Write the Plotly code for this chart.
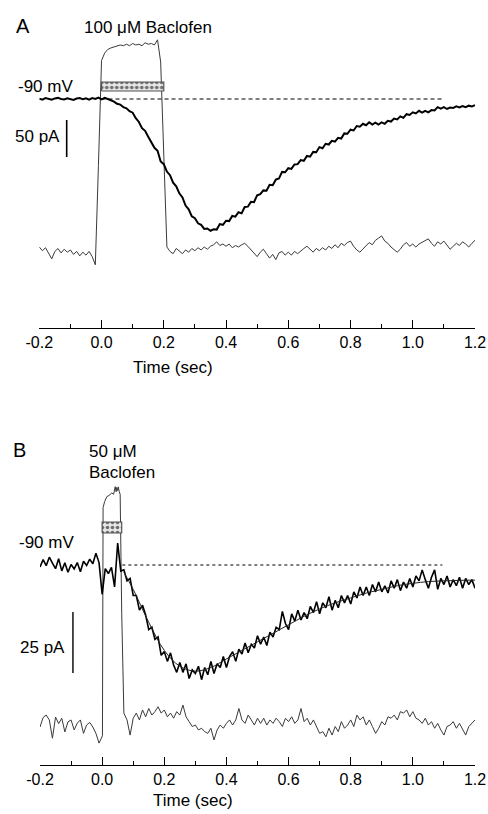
import plotly.graph_objects as go

W, H = 488, 814

# ---------------- data ----------------
T0 = -0.2          # first sample time (s)
DT = 0.01          # sample interval (s)

# Panel A: 100 uM baclofen, current (pA, relative to holding current at -90 mV)
a_current = [
    0.5, -0.8, 1.2, 0.2, -1.0, 0.8, 1.5, 0.0, -0.6, 1.0,
    0.3, -1.2, 0.6, 1.4, -0.4, 0.9, -0.8, 1.3, 0.2, 2.0,
    -0.5, 1.5, 0.0, -1.8, -3.5, -6.5, -7.5, -11, -12.5, -16.5,
    -18.5, -26, -31, -39.5, -43, -51, -58, -66, -70, -84.5,
    -88, -98, -103, -113, -118, -127.5, -133, -144, -149, -158.5,
    -161, -168, -170, -175.5, -175, -178, -176, -176.5, -169, -170,
    -164.5, -165, -158, -159, -153, -154.5, -146, -145.5, -139, -139.5,
    -130, -128.5, -123.5, -124, -116, -116.5, -109, -107.5, -98.5, -99,
    -93.5, -94.5, -88.5, -88, -82.5, -83.5, -77, -78, -71.5, -72,
    -65, -66.5, -60.5, -61.5, -56.5, -57.5, -52.5, -53.5, -46.5, -47,
    -41.5, -42.5, -36.5, -37.5, -33.5, -35.5, -31.5, -34.5, -32, -34.5,
    -31.5, -33.5, -29.5, -30.5, -26.5, -27.5, -23.5, -25.5, -20.5, -21.5,
    -18, -19.5, -16, -18.5, -16, -18, -15, -15.5, -11, -13,
    -11, -13.5, -11.5, -12, -10, -11.5, -9.5, -11, -9, -10,
    -8.5,
]
# Panel A: solution-exchange (open-tip) trace, same vertical units
a_solution = [
    -200, -205, -201, -209, -216, -206, -202, -208, -203, -207,
    -204, -210, -206, -212, -207, -211, -206, -213, -224, -90,
    52, 62, 67, 69, 70, 71, 73, 72, 74, 72,
    75, 73, 74, 72, 76, 74, 75, 73, 80, 50,
    -78, -200, -206, -209, -202, -205, -209, -204, -207, -202,
    -205, -201, -204, -200, -203, -199, -197, -193, -198, -196,
    -199, -196, -201, -198, -200, -197, -195, -199, -204, -209,
    -213, -207, -203, -209, -215, -210, -217, -208, -206, -211,
    -207, -211, -206, -209, -205, -202, -199, -203, -207, -202,
    -205, -201, -204, -199, -202, -197, -201, -195, -198, -194,
    -192, -199, -204, -207, -203, -198, -194, -197, -191, -188,
    -185, -192, -195, -200, -204, -207, -203, -197, -194, -199,
    -196, -200, -196, -194, -191, -189, -195, -199, -193, -196,
    -192, -198, -203, -199, -195, -198, -193, -196, -200, -195,
    -191,
]
a_application = [0.0, 0.2]     # s
a_baseline_span = [0.0, 1.1]   # s
a_scale_pa = 50

# Panel B: 50 uM baclofen, current (pA)
b_current = [
    -0.8, 2.2, -0.3, 3.2, 0.8, -1.5, 2.6, -2.4, 0.9, -3.0,
    0.2, -1.6, 1.0, -2.8, 1.5, -0.2, 2.4, 0.5, 4.8, 1.0,
    -12.0, -1.5, -3.5, -1.0, -9.0, 9.0, -2.5, -2.0, -6.5, -5.5,
    -12.5, -12.5, -18.5, -16.5, -20.5, -26.5, -25.5, -30.5, -29.5, -37,
    -35.5, -39.5, -36, -41, -44, -40, -44, -40.5, -46.5, -43,
    -44.5, -41.5, -47, -42, -45, -39.5, -44.5, -40.5, -42, -37.5,
    -42, -37.5, -35.5, -39.5, -34.5, -36.5, -32, -36, -32.5, -34,
    -29, -32.5, -29.5, -33, -27.5, -29.5, -25.5, -26.5, -19, -24,
    -26.5, -20, -23, -18.5, -22.5, -19.5, -22, -17, -19.5, -15,
    -20, -15.5, -17.5, -13, -18.5, -14.5, -17.5, -12.5, -15.5, -12.5,
    -16, -11, -13.5, -9, -12.5, -9, -12.5, -8, -11, -7,
    -11, -8.5, -11.5, -6.5, -9.5, -6, -10.5, -7, -9.5, -5.5,
    -9, -4.5, -6.5, -2, -6, -9.5, -5, -2, -10, -5.5,
    -8, -4.5, -9, -6, -8.5, -5, -9.5, -5.5, -8, -6,
    -9.5,
]
# Panel B: fitted curve
b_fit_t = [0.07, 0.10, 0.15, 0.20, 0.25, 0.30, 0.35, 0.40, 0.45, 0.50, 0.55, 0.60,
           0.65, 0.70, 0.75, 0.80, 0.85, 0.90, 0.95, 1.00, 1.05, 1.10, 1.15, 1.20]
b_fit = [-3, -10, -23.5, -35, -41.5, -43.5, -42, -38.5, -35, -31.5, -28, -24.5,
         -21, -18, -15.5, -13.5, -11.5, -10, -8.5, -7.5, -6.8, -6.5, -6.3, -6.2]
# Panel B: solution-exchange trace (pre-pulse / pulse / post-pulse)
b_sol_pre = [-66.4, -62.5, -61.5, -63.5, -71.0, -62.3, -65.0, -62.8, -68.4, -64.3,
             -63.5, -67.6, -64.8, -63.5, -69.0, -65.6, -64.5, -66.4, -69.0, -73.0]
b_sol_pulse_t = [0.001, 0.003, 0.008, 0.015, 0.022, 0.031, 0.037, 0.042,
                 0.045, 0.047, 0.050, 0.052, 0.055, 0.058, 0.063]
b_sol_pulse = [-70, 23.5, 26.0, 28.0, 28.5, 29.5, 29.0, 32.1,
               30.0, 31.8, 30.5, 32.0, 30.0, 29.0, -20]
b_sol_post_t0 = 0.07
b_sol_post = [
    -60.7, -63.5, -69.7, -62.8, -60.7, -63.5, -59.4, -62.2, -58.8, -61.5,
    -60.1, -58.1, -60.7, -59.4, -62.2, -60.7, -62.8, -60.1, -61.5, -57.4,
    -62.2, -64.2, -66.2, -65.6, -67.6, -66.9, -68.3, -69.0, -66.9, -71.7,
    -67.6, -65.6, -66.9, -64.9, -63.5, -65.6, -63.5, -58.8, -63.5, -64.9,
    -61.5, -63.5, -65.6, -62.8, -64.9, -62.8, -65.6, -63.5, -64.9, -62.8,
    -64.2, -66.2, -62.8, -64.2, -62.2, -64.9, -63.5, -58.8, -64.2, -62.8,
    -65.6, -63.5, -66.2, -69.0, -68.3, -70.4, -66.9, -69.7, -66.2, -68.3,
    -64.2, -66.9, -65.6, -63.5, -66.2, -61.5, -63.5, -62.2, -65.6, -63.5,
    -66.2, -69.0, -66.9, -64.2, -65.6, -62.2, -62.8, -61.5, -63.5, -60.1,
    -60.7, -59.4, -62.2, -60.1, -62.8, -63.5, -64.9, -62.8, -65.6, -64.2,
    -66.9, -64.9, -67.6, -69.7, -66.2, -65.6, -64.2, -66.9, -64.9, -67.6,
    -69.7, -66.2, -64.9, -63.5,
]
b_application = [0.0, 0.063]
b_baseline_span = [0.065, 1.095]
b_scale_pa = 25

tick_vals = [-0.2, 0.0, 0.2, 0.4, 0.6, 0.8, 1.0, 1.2]
tick_text = ["-0.2", "0.0", "0.2", "0.4", "0.6", "0.8", "1.0", "1.2"]
minor_vals = [-0.1, 0.1, 0.3, 0.5, 0.7, 0.9, 1.1]


def times(t0, n):
    return [round(t0 + i * DT, 4) for i in range(n)]


# ---------------- geometry (pixels) ----------------
FONT = "Liberation Sans, Arial, sans-serif"
A_X0, A_X1 = 39.3, 475.0
A_AXIS_Y, A_BASE_Y, A_PX_PER_PA = 328.0, 99.0, 0.74
B_X0, B_X1 = 40.0, 475.0
B_AXIS_Y, B_BASE_Y, B_PX_PER_PA, B_TOP = 765.0, 565.0, 2.44, 400.0


def fx(px):
    return px / W


def fy(py):
    return 1 - py / H


def pa_a(px_above):
    return px_above / A_PX_PER_PA


def pa_b(px_above):
    return px_above / B_PX_PER_PA


BOX_PATTERN = dict(shape=".", fgcolor="#6e6e6e", bgcolor="#e6e6e6", size=5, solidity=0.4)

fig = go.Figure()

# ---- Panel A ----
fig.add_trace(go.Scatter(x=times(T0, len(a_solution)), y=a_solution, mode="lines",
                         line=dict(color="#3a3a3a", width=1), xaxis="x", yaxis="y"))
fig.add_trace(go.Scatter(x=a_baseline_span, y=[0, 0], mode="lines",
                         line=dict(color="black", width=1, dash="4px,3px"), xaxis="x", yaxis="y"))
fig.add_trace(go.Scatter(x=times(T0, len(a_current)), y=a_current, mode="lines",
                         line=dict(color="black", width=2), xaxis="x", yaxis="y"))
lo, hi = pa_a(8), pa_a(17)
fig.add_trace(go.Scatter(x=[a_application[0], a_application[1], a_application[1], a_application[0], a_application[0]],
                         y=[lo, lo, hi, hi, lo], mode="lines", fill="toself",
                         fillpattern=BOX_PATTERN,
                         line=dict(color="#555555", width=1.2), xaxis="x", yaxis="y"))

# ---- Panel B ----
b_sol_t = times(T0, len(b_sol_pre)) + b_sol_pulse_t + times(b_sol_post_t0, len(b_sol_post))
b_sol = b_sol_pre + b_sol_pulse + b_sol_post
fig.add_trace(go.Scatter(x=b_sol_t, y=b_sol, mode="lines",
                         line=dict(color="#3a3a3a", width=1), xaxis="x2", yaxis="y2"))
fig.add_trace(go.Scatter(x=b_baseline_span, y=[0, 0], mode="lines",
                         line=dict(color="black", width=1, dash="3px,3px"), xaxis="x2", yaxis="y2"))
fig.add_trace(go.Scatter(x=times(T0, len(b_current)), y=b_current, mode="lines",
                         line=dict(color="black", width=1.6), xaxis="x2", yaxis="y2"))
fig.add_trace(go.Scatter(x=b_fit_t, y=b_fit, mode="lines", line_shape="spline",
                         line=dict(color="#222222", width=1), xaxis="x2", yaxis="y2"))
lo, hi = pa_b(32), pa_b(43)
fig.add_trace(go.Scatter(x=[b_application[0], b_application[1], b_application[1], b_application[0], b_application[0]],
                         y=[lo, lo, hi, hi, lo], mode="lines", fill="toself",
                         fillpattern=BOX_PATTERN,
                         line=dict(color="#555555", width=1.2), xaxis="x2", yaxis="y2"))

# scale bars
a_bar_top = pa_a(A_BASE_Y - 120)
b_bar_top = pa_b(B_BASE_Y - 612)
shapes = [
    dict(type="line", xref="x", yref="y", x0=-0.112, x1=-0.112,
         y0=a_bar_top, y1=a_bar_top - a_scale_pa, line=dict(color="black", width=1.6)),
    dict(type="line", xref="x2", yref="y2", x0=-0.094, x1=-0.094,
         y0=b_bar_top, y1=b_bar_top - b_scale_pa, line=dict(color="black", width=1.4)),
]

axis_common = dict(
    range=[-0.2, 1.2], showline=True, linecolor="black", linewidth=1,
    ticks="inside", ticklen=8, tickwidth=1, tickcolor="black",
    tickmode="array", tickvals=tick_vals, ticktext=tick_text,
    tickfont=dict(family=FONT, size=16, color="black"),
    showgrid=False, zeroline=False, fixedrange=True, automargin=False,
    minor=dict(tickmode="array", tickvals=minor_vals, ticks="inside", ticklen=4,
               tickwidth=1, tickcolor="black", showgrid=False),
)


def ann(text, px, py, xanchor="left", size=17):
    return dict(text=text, x=fx(px), y=fy(py), xref="paper", yref="paper",
                xanchor=xanchor, yanchor="middle", showarrow=False,
                font=dict(family=FONT, size=size, color="black"))


annotations = [
    ann("A", 14, 26, size=20),
    ann("100 μM Baclofen", 82, 27),
    ann("-90 mV", 16, 87),
    ann("50 pA", 62, 137, xanchor="right"),
    ann("Time (sec)", 173, 368, xanchor="center"),
    ann("B", 11, 450, size=20),
    ann("50 μM", 87, 451),
    ann("Baclofen", 87, 473),
    ann("-90 mV", 17, 542),
    ann("25 pA", 67, 647, xanchor="right"),
    ann("Time (sec)", 193, 800, xanchor="center"),
]

fig.update_layout(
    template="none",
    width=W, height=H, margin=dict(l=0, r=0, t=0, b=0, pad=0, autoexpand=False),
    paper_bgcolor="white", plot_bgcolor="white", showlegend=False,
    xaxis=dict(domain=[fx(A_X0), fx(A_X1)], anchor="y", **axis_common),
    yaxis=dict(domain=[fy(A_AXIS_Y), 1.0], anchor="x", visible=False, fixedrange=True, automargin=False,
               range=[-(A_AXIS_Y - A_BASE_Y) / A_PX_PER_PA, A_BASE_Y / A_PX_PER_PA]),
    xaxis2=dict(domain=[fx(B_X0), fx(B_X1)], anchor="y2", **axis_common),
    yaxis2=dict(domain=[fy(B_AXIS_Y), fy(B_TOP)], anchor="x2", visible=False, fixedrange=True, automargin=False,
                range=[-(B_AXIS_Y - B_BASE_Y) / B_PX_PER_PA, (B_BASE_Y - B_TOP) / B_PX_PER_PA]),
    shapes=shapes, annotations=annotations,
)

fig.write_html("out.html", config={"displayModeBar": False})
